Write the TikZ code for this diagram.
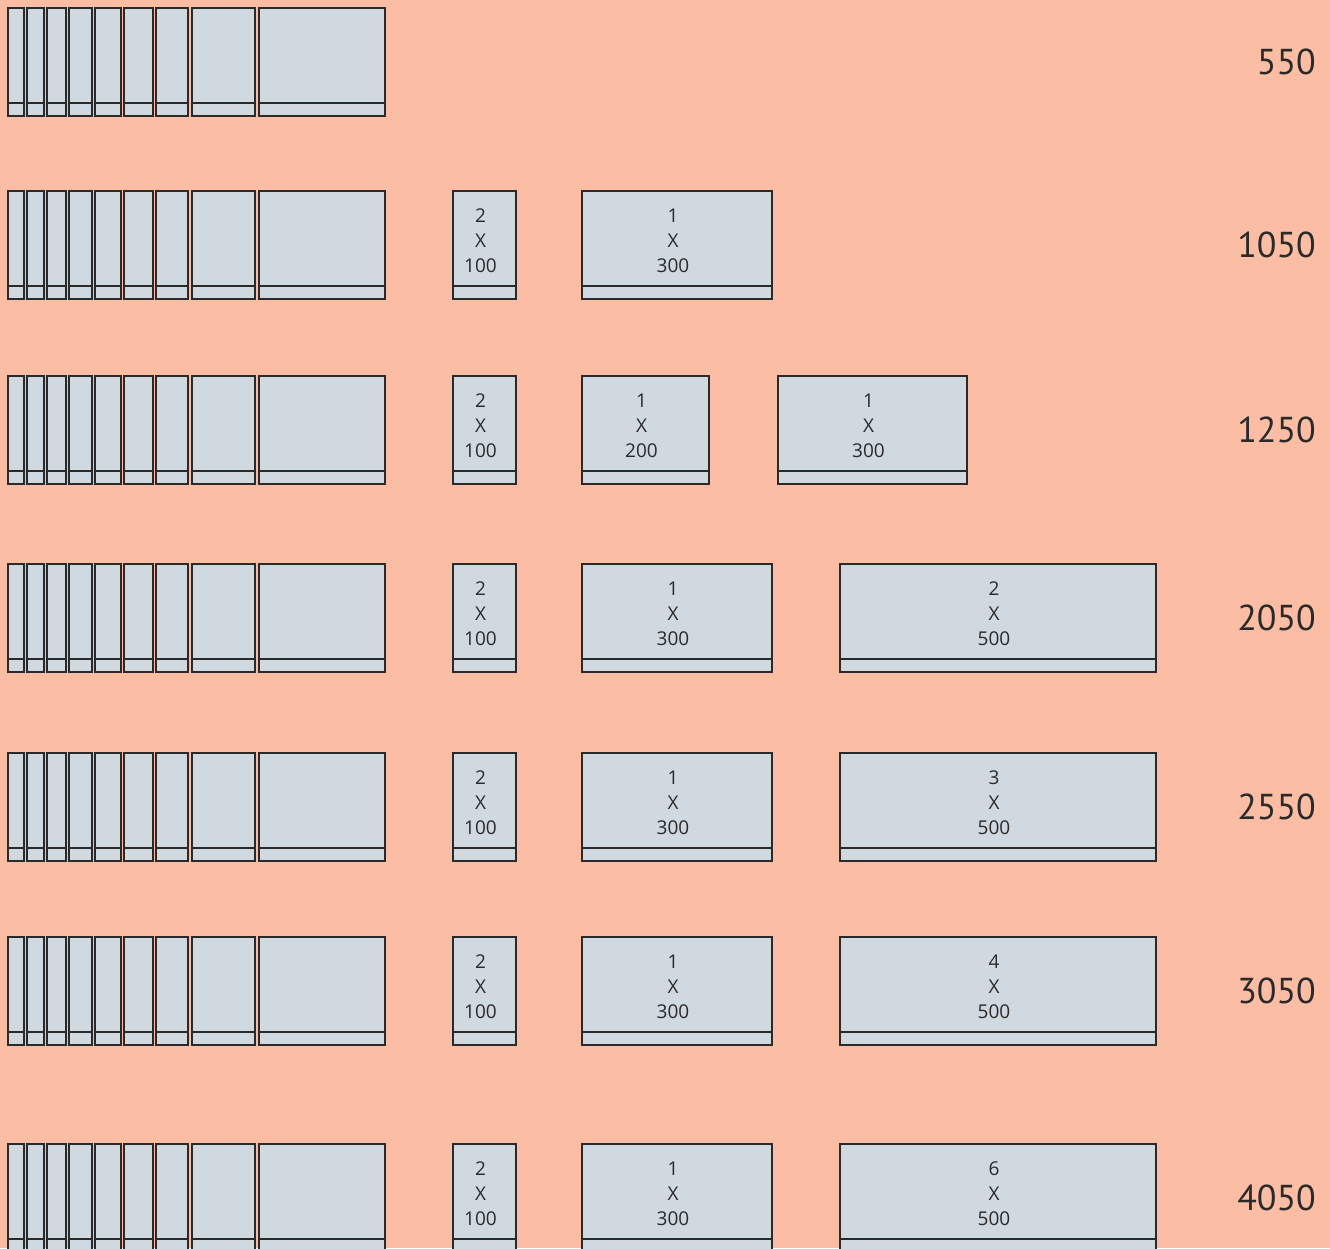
\documentclass[tikz,border=0pt]{standalone}
\usepackage{fontspec}
\setmainfont{Open Sans}
\newfontfamily\totalfont{PT Sans}
\definecolor{bg}{HTML}{FBBEA5}
\definecolor{boxfill}{HTML}{D0D8E0}
\definecolor{ink}{HTML}{2A2A2A}
\tikzset{
  drawer/.style={draw=ink, fill=boxfill, line width=2pt, outer sep=0pt, inner sep=0pt,
                 minimum height=108pt, anchor=north west},
  lbl/.style={font=\fontsize{19}{25}\selectfont, text=ink, align=center, inner sep=0pt},
  total/.style={font=\totalfont\fontsize{36}{40}\selectfont, text=ink, anchor=east, inner sep=0pt}
}
\newcommand\drawerbox[4]{%
  \node[drawer, minimum width={(#3)-(#2)}] (#1) at (#2,#4) {};
  \draw[ink, line width=2pt] ([yshift=13pt]#1.south west) -- ([yshift=13pt]#1.south east);
}
\newcommand\drawerlbl[2]{%
  \node[lbl] (#1-t) at ([xshift=-4pt,yshift=-50pt]#1.north) {#2};
}
\begin{document}
\begin{tikzpicture}[x=1pt,y=-1pt]
\useasboundingbox (0,0) rectangle (1330,1248);
\clip (0,0) rectangle (1330,1248);
\fill[bg] (0,0) rectangle (1330,1248);
% left group of drawers in every row
\foreach \r/\t in {1/8,2/191,3/376,4/564,5/753,6/937,7/1144}{
  \foreach \a/\b [count=\i] in {8/24,27/44,47/66,69/92,95/121,124/153,156/188,192/255,259/385}{
    \drawerbox{r\r b\i}{\a}{\b}{\t}
  }
}
% row 2
\drawerbox{r2s}{453}{516}{191}\drawerlbl{r2s}{2\\X\\100}
\drawerbox{r2m}{582}{772}{191}\drawerlbl{r2m}{1\\X\\300}
% row 3
\drawerbox{r3s}{453}{516}{376}\drawerlbl{r3s}{2\\X\\100}
\drawerbox{r3m}{582}{709}{376}\drawerlbl{r3m}{1\\X\\200}
\drawerbox{r3l}{778}{967}{376}\drawerlbl{r3l}{1\\X\\300}
% rows 4-7
\foreach \r/\t/\n in {4/564/2,5/753/3,6/937/4,7/1144/6}{
  \drawerbox{r\r s}{453}{516}{\t}\drawerlbl{r\r s}{2\\X\\100}
  \drawerbox{r\r m}{582}{772}{\t}\drawerlbl{r\r m}{1\\X\\300}
  \drawerbox{r\r l}{840}{1156}{\t}\drawerlbl{r\r l}{\n\\X\\500}
}
% totals
\node[total] (t1) at (1316,62) {550};
\node[total] (t2) at (1316,245) {1050};
\node[total] (t3) at (1316,430) {1250};
\node[total] (t4) at (1316,618) {2050};
\node[total] (t5) at (1316,807) {2550};
\node[total] (t6) at (1316,991) {3050};
\node[total] (t7) at (1316,1198) {4050};
\end{tikzpicture}
\end{document}
